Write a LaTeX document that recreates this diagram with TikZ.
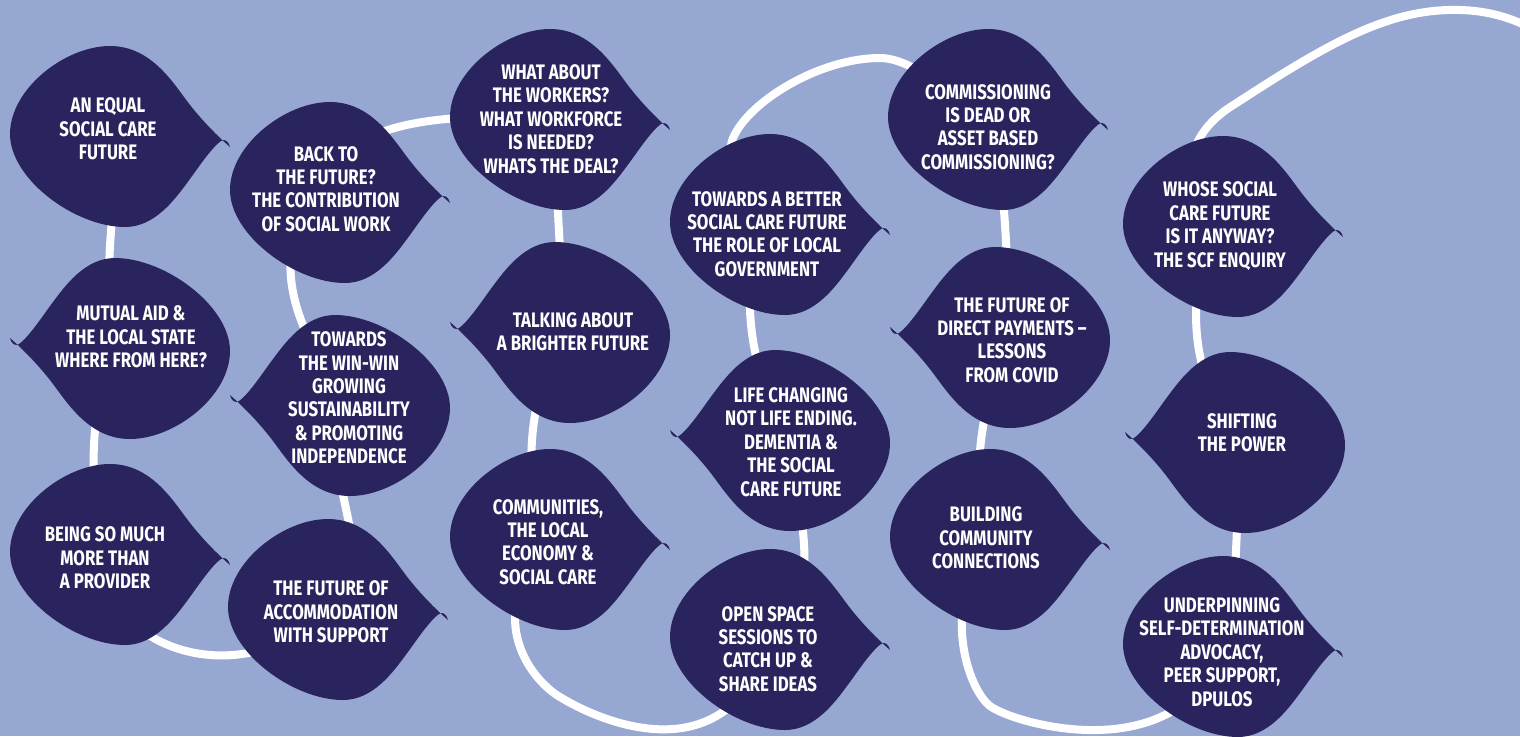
\documentclass[tikz,border=0pt]{standalone}
\usepackage{fontspec}
\newfontfamily\leaffont{Fira Sans}[FakeStretch=0.8]
\definecolor{sky}{RGB}{150,167,210}
\definecolor{ink}{RGB}{42,36,94}
\pgfdeclarelayer{roadlayer}
\pgfsetlayers{roadlayer,main}
\tikzset{
  leaftext/.style={text=white, align=center, inner sep=0pt,
    font=\leaffont\bfseries\fontsize{10.5}{11.7}\selectfont},
  road/.style={draw=white, line width=4pt},
  leaf/.pic={
    \fill[ink] (125,-10) .. controls (110,3) and (94,20) .. (82,36)
      .. controls (67,56) and (45,91) .. (5,91)
      .. controls (-40,91) and (-95,48) .. (-95,3)
      .. controls (-95,-42) and (-30,-90) .. (20,-90)
      .. controls (50,-90) and (70,-62) .. (82,-46)
      .. controls (91,-34) and (106,-11) .. (116,-4)
      .. controls (120,-1) and (124,-5) .. (125,-10) -- cycle;
  }
}
\begin{document}
\begin{tikzpicture}[x=0.5pt, y=0.5pt, yscale=-1]
    \useasboundingbox (0,0) rectangle (1520,736);

    \pic at (105,137) {leaf};
    \node[leaftext] (equal) at (108,129) {AN EQUAL\\SOCIAL CARE\\FUTURE};
    \pic[rotate=180] at (135,348) {leaf};
    \node[leaftext] (mutual) at (131,337) {MUTUAL AID \&\\THE LOCAL STATE\\WHERE FROM HERE?};
    \pic at (105,555) {leaf};
    \node[leaftext] (being) at (105,558) {BEING SO MUCH\\MORE THAN\\A PROVIDER};

    \pic at (325,193) {leaf};
    \node[leaftext] (back) at (326,189) {BACK TO\\THE FUTURE?\\THE CONTRIBUTION\\OF SOCIAL WORK};
    \pic[rotate=180] at (355,405) {leaf};
    \node[leaftext] (winwin) at (349,398) {TOWARDS\\THE WIN-WIN\\GROWING\\SUSTAINABILITY\\\& PROMOTING\\INDEPENDENCE};
    \pic at (323,610) {leaf};
    \node[leaftext] (accom) at (331,612) {THE FUTURE OF\\ACCOMMODATION\\WITH SUPPORT};

    \pic at (545,120) {leaf};
    \node[leaftext] (workers) at (551,119) {WHAT ABOUT\\THE WORKERS?\\WHAT WORKFORCE\\IS NEEDED?\\WHATS THE DEAL?};
    \pic[rotate=180] at (575,332) {leaf};
    \node[leaftext] (talking) at (573,332) {TALKING ABOUT\\A BRIGHTER FUTURE};
    \pic at (545,540) {leaf};
    \node[leaftext] (communities) at (548,542) {COMMUNITIES,\\THE LOCAL\\ECONOMY \&\\SOCIAL CARE};

    \pic at (765,225) {leaf};
    \node[leaftext] (towards) at (767,234) {TOWARDS A BETTER\\SOCIAL CARE FUTURE\\THE ROLE OF LOCAL\\GOVERNMENT};
    \pic[rotate=180] at (795,440) {leaf};
    \node[leaftext] (lifech) at (791,442) {LIFE CHANGING\\NOT LIFE ENDING.\\DEMENTIA \&\\THE SOCIAL\\CARE FUTURE};
    \pic at (765,640) {leaf};
    \node[leaftext] (openspace) at (768,649) {OPEN SPACE\\SESSIONS TO\\CATCH UP \&\\SHARE IDEAS};

    \pic at (983,120) {leaf};
    \node[leaftext] (commiss) at (988,127) {COMMISSIONING\\IS DEAD OR\\ASSET BASED\\COMMISSIONING?};
    \pic[rotate=180] at (1015,337) {leaf};
    \node[leaftext] (direct) at (1012,340) {THE FUTURE OF\\DIRECT PAYMENTS –\\LESSONS\\FROM COVID};
    \pic at (985,540) {leaf};
    \node[leaftext] (building) at (986,538) {BUILDING\\COMMUNITY\\CONNECTIONS};

    \pic at (1218,227) {leaf};
    \node[leaftext] (whose) at (1220,226) {WHOSE SOCIAL\\CARE FUTURE\\IS IT ANYWAY?\\THE SCF ENQUIRY};
    \pic[rotate=180] at (1250,442) {leaf};
    \node[leaftext] (shifting) at (1242,433) {SHIFTING\\THE POWER};
    \pic at (1218,647) {leaf};
    \node[leaftext] (underp) at (1222,652) {UNDERPINNING\\SELF-DETERMINATION\\ADVOCACY,\\PEER SUPPORT,\\DPULOS};

    \coordinate (roadend) at (1560,45);

    \begin{pgfonlayer}{roadlayer}
    \clip (0,0) rectangle (1520,736);
    \fill[sky] (0,0) rectangle (1520,736);
    \draw[road] (equal.center) .. controls (130,190) and (85,290) .. (mutual.center)
        .. controls (85,370) and (88,500) .. (being.center)
        .. controls (100,640) and (230,700) .. (accom.center)
        .. controls (392,570) and (306,460) .. (winwin.center)
        .. controls (305,350) and (255,250) .. (back.center)
        .. controls (335,130) and (420,110) .. (workers.center)
        .. controls (560,170) and (555,280) .. (talking.center)
        .. controls (530,370) and (518,480) .. (communities.center)
        .. controls (480,620) and (534,682) .. (560,697)
        .. controls (594,718) and (720,778) .. (openspace.center)
        .. controls (830,590) and (795,510) .. (lifech.center)
        .. controls (760,400) and (730,290) .. (towards.center)
        .. controls (745,205) and (723,161) .. (733,138)
        .. controls (749,101) and (820,58) .. (880,58)
        .. controls (910,58) and (950,90) .. (commiss.center)
        .. controls (1010,180) and (1005,290) .. (direct.center)
        .. controls (985,380) and (968,480) .. (building.center)
        .. controls (940,615) and (970,691) .. (990,706)
        .. controls (1014,724) and (1175,770) .. (underp.center)
        .. controls (1240,600) and (1235,500) .. (shifting.center)
        .. controls (1195,400) and (1178,290) .. (whose.center)
        .. controls (1170,170) and (1195,128) .. (1235,104)
        .. controls (1330,42) and (1390,8) .. (1460,10)
        .. controls (1500,11) and (1530,25) .. (roadend);
    \end{pgfonlayer}
\end{tikzpicture}
\end{document}
